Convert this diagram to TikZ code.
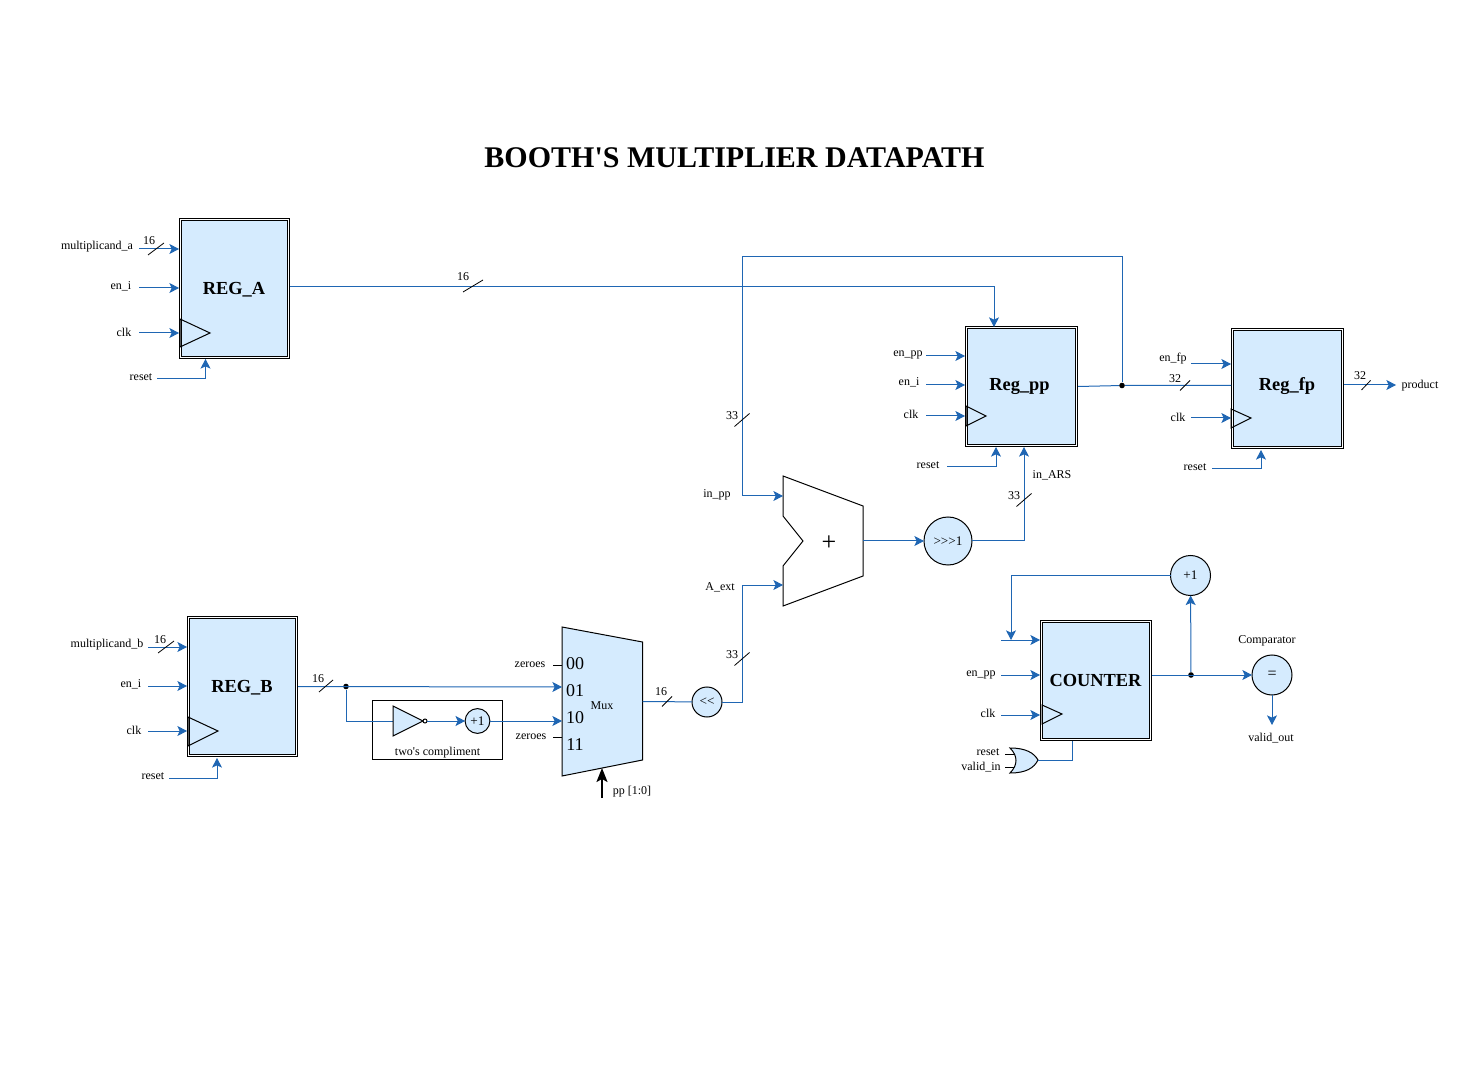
\documentclass[tikz,border=0pt]{standalone}
\usepackage{fontspec}
\setmainfont{Liberation Serif}
\usepackage{xcolor}
\usetikzlibrary{calc}
\usetikzlibrary{arrows.meta}
\definecolor{wireblue}{HTML}{1F66B3}
\definecolor{blockfill}{HTML}{D5EBFE}
\tikzset{
    wire/.style={draw=wireblue, line width=0.5pt},
    wirearrow/.style={wire, -{Stealth[length=4.8pt, width=5pt, inset=1.1pt]}},
    tick/.style={line width=0.4pt},
    lbl/.style={inner sep=0pt, anchor=base, yshift=-2.25pt, font=\fontsize{6}{7}\selectfont},
    bigdigit/.style={inner sep=0pt, anchor=base, yshift=-3pt, font=\fontsize{9}{10}\selectfont},
    regbox/.style={draw, double, double distance=0.5pt, line width=0.5pt, fill=blockfill,
        outer sep=0.75pt, inner sep=0pt},
    regname/.style={inner sep=0pt, anchor=base, font=\bfseries\fontsize{9.2}{11}\selectfont},
    opcircle/.style={circle, draw, line width=0.5pt, fill=blockfill, inner sep=0pt,
        outer sep=0pt, font=\fontsize{6.6}{7}\selectfont},
    joint/.style={circle, fill=black, inner sep=0pt, minimum size=2.8pt},
    block/.style={draw, line width=0.5pt, fill=blockfill, line join=miter},
}
\begin{document}
\begin{tikzpicture}[x=0.5pt, y=-0.5pt]
    \useasboundingbox (0,0) rectangle (1473,1080);

    \node[inner sep=0pt, font=\bfseries\fontsize{15}{18}\selectfont] (title) at (734.5,158) {BOOTH\textquotesingle S MULTIPLIER DATAPATH};

    % registers
    \node[regbox, minimum width=54pt, minimum height=69pt] (rega) at (234.5,288.5) {};
    \node[regbox, minimum width=54pt, minimum height=69pt] (regb) at (242.5,686.5) {};
    \node[regbox, minimum width=55pt, minimum height=59pt] (regpp) at (1021.5,386.5) {};
    \node[regbox, minimum width=55pt, minimum height=59pt] (regfp) at (1287.5,388.5) {};
    \node[regbox, minimum width=54.5pt, minimum height=59pt] (counter) at (1096,680.5) {};
    \node[regname] (namea) at (234,295) {REG\_A};
    \node[regname] (nameb) at (242,692.5) {REG\_B};
    \node[regname] (namepp) at (1019.5,391) {Reg\_pp};
    \node[regname] (namefp) at (1287,391) {Reg\_fp};
    \node[regname] (namecn) at (1095.5,686) {COUNTER};

    % clock marks
    \draw[line width=0.5pt] (180,319) -- (210,333) -- (180,347) -- cycle;
    \draw[line width=0.5pt] (188,717) -- (218,731) -- (188,746) -- cycle;
    \draw[line width=0.5pt] (966,406) -- (986,416) -- (966,426) -- cycle;
    \draw[line width=0.5pt] (1231,409) -- (1251,418) -- (1231,428) -- cycle;
    \draw[line width=0.5pt] (1042,705) -- (1062,714) -- (1042,724) -- cycle;

    % REG_A side
    \node[lbl] (lblma) at (97,245) {multiplicand\_a};
    \node[lbl] (lblia) at (121,285) {en\_i};
    \node[lbl] (lblca) at (124,332) {clk};
    \node[lbl] (lblra) at (141,376) {reset};
    \coordinate (inma) at (139,249);
    \coordinate (inia) at (139,288);
    \coordinate (inca) at (139,333);
    \coordinate (inra) at (157,379);
    \coordinate (upra) at (205.5,359);
    \draw[wirearrow] (inma) -- (rega.west |- inma);
    \draw[wirearrow] (inia) -- (rega.west |- inia);
    \draw[wirearrow] (inca) -- (rega.west |- inca);
    \draw[wirearrow] (inra) -| (upra);
    \draw[tick] (156,249) ++(-8,6) -- ++(16,-12);
    \node[lbl] (w16a) at (149,240) {16};

    % REG_B side
    \node[lbl] (lblmb) at (107,643) {multiplicand\_b};
    \node[lbl] (lblib) at (131,683) {en\_i};
    \node[lbl] (lblcb) at (134,730) {clk};
    \node[lbl] (lblrb) at (153,775) {reset};
    \coordinate (inmb) at (148,647);
    \coordinate (inib) at (148,686);
    \coordinate (incb) at (148,731);
    \coordinate (inrb) at (169,778);
    \coordinate (uprb) at (217,758);
    \draw[wirearrow] (inmb) -- (regb.west |- inmb);
    \draw[wirearrow] (inib) -- (regb.west |- inib);
    \draw[wirearrow] (incb) -- (regb.west |- incb);
    \draw[wirearrow] (inrb) -| (uprb);
    \draw[tick] (166,647) ++(-8,6) -- ++(16,-12);
    \node[lbl] (w16b) at (160,639) {16};

    % two's compliment
    \node[draw, line width=0.5pt, minimum width=65pt, minimum height=29.5pt, inner sep=0pt] (twobox) at (437,729.5) {};
    \node[lbl] (lbltwo) at (437.5,751) {two\textquotesingle s compliment};
    \coordinate (invin) at (393,721);
    \coordinate (invout) at (427,721);
    \node[opcircle, minimum size=12.4pt] (plusb) at (477.5,721) {+1};

    % mux
    \draw[block] (562,627) -- (642.5,642) -- (642.5,760) -- (562,776) -- cycle;
    \coordinate (muxa) at (562,687);
    \coordinate (muxb) at (562,721);
    \coordinate (muxout) at (642.5,701.5);
    \coordinate (muxsel) at (602,768);
    \coordinate (selin) at (602,798);
    \node[bigdigit] (dig00) at (575,663) {00};
    \node[bigdigit] (dig01) at (575,690) {01};
    \node[bigdigit] (dig10) at (575,717) {10};
    \node[bigdigit] (dig11) at (575,744) {11};
    \node[lbl] (lblmux) at (602,705) {Mux};
    \node[lbl] (lblz1) at (530,663) {zeroes};
    \node[lbl] (lblz2) at (531,735) {zeroes};
    \node[lbl] (lblsel) at (632,790) {pp [1:0]};
    \coordinate (zin1) at (553,665);
    \coordinate (zin2) at (553,737);
    \draw[line width=0.5pt] (zin1) -- (zin1 -| muxa);
    \draw[line width=0.5pt] (zin2) -- (zin2 -| muxa);
    \draw[-{Stealth[length=7pt, width=5.5pt, inset=1.5pt]}, line width=1pt] (selin) -- (muxsel);

    % REG_B to mux
    \node[joint] (jb) at (346,686.5) {};
    \draw[wirearrow] (regb.east) -- (muxa);
    \draw[wire] (jb) |- (invin);
    \draw[tick] (326,686) ++(-7,6) -- ++(14,-12);
    \node[lbl] (w16c) at (318,678) {16};
    \draw[block] (393,706) -- (423,721) -- (393,736) -- cycle;
    \draw[line width=0.5pt, fill=white] (425,721) circle (1pt);
    \draw[wirearrow] (invout) -- (plusb);
    \draw[wirearrow] (plusb) -- (muxb);

    % shifter and adder
    \node[opcircle, minimum size=15pt] (shl) at (707,702) {<{}<};
    \draw[wire] (muxout) -- (shl);
    \draw[tick] (667,701.5) ++(-5,5) -- ++(10,-10);
    \node[lbl] (w16d) at (661,691) {16};
    \draw[line width=0.5pt, fill=white] (783,476) -- (863,506) -- (863,576) -- (783,606) -- (783,566) -- (803,541) -- (783,516) -- cycle;
    \node[inner sep=0pt, font=\fontsize{13}{14}\selectfont] (lblplus) at (829,543) {+};
    \coordinate (addin1) at (783,496);
    \coordinate (addin2) at (783,585);
    \coordinate (addout) at (863,541);
    \coordinate (aextup) at (742,585);
    \coordinate (fbcorner) at (742,257);
    \node[lbl] (lblinpp) at (717,493) {in\_pp};
    \node[lbl] (lblaext) at (720,586) {A\_ext};
    \draw[wirearrow] (shl) -| (aextup) -- (addin2);
    \draw[tick] (742,659) ++(-7.5,6.5) -- ++(15,-13);
    \node[lbl] (w33a) at (732,654) {33};
    \node[opcircle, minimum size=24pt] (sra) at (948,541) {>{}>{}>1};
    \draw[wirearrow] (addout) -- (sra);
    \coordinate (ppup) at (1024,447);
    \draw[wirearrow] (sra) -| (ppup);
    \draw[tick] (1024,500) ++(-7.5,6.5) -- ++(15,-13);
    \node[lbl] (w33b) at (1014,495) {33};
    \node[lbl] (lblars) at (1052,474) {in\_ARS};

    % REG_A to Reg_pp
    \coordinate (ppa) at (994,327);
    \draw[wirearrow] (rega.east) ++(0,-1.5) -| (ppa);
    \draw[tick] (473,286) ++(-10,6) -- ++(20,-12);
    \node[lbl] (w16e) at (463,276) {16};

    % Reg_pp
    \node[lbl] (lblepp) at (908,352) {en\_pp};
    \node[lbl] (lblipp) at (909,381) {en\_i};
    \node[lbl] (lblcpp) at (911,414) {clk};
    \node[lbl] (lblrpp) at (928,464) {reset};
    \coordinate (inepp) at (926,356);
    \coordinate (inipp) at (926,385);
    \coordinate (incpp) at (926,416);
    \coordinate (inrpp) at (947,467);
    \coordinate (uprpp) at (996,447);
    \draw[wirearrow] (inepp) -- (regpp.west |- inepp);
    \draw[wirearrow] (inipp) -- (regpp.west |- inipp);
    \draw[wirearrow] (incpp) -- (regpp.west |- incpp);
    \draw[wirearrow] (inrpp) -| (uprpp);

    % Reg_pp to Reg_fp, feedback to adder
    \node[joint] (jpp) at (1122,385.5) {};
    \draw[wire] (regpp.east) -- (jpp) -- (regfp.west |- jpp);
    \draw[tick] (1185,385.5) ++(-5,5) -- ++(10,-10);
    \node[lbl] (w32a) at (1175,378) {32};
    \draw[wirearrow] (jpp) |- (fbcorner) |- (addin1);
    \draw[tick] (742,420) ++(-7.5,6.5) -- ++(15,-13);
    \node[lbl] (w33c) at (732,415) {33};

    % Reg_fp
    \node[lbl] (lblefp) at (1173,357) {en\_fp};
    \node[lbl] (lblcfp) at (1178,417) {clk};
    \node[lbl] (lblrfp) at (1195,466) {reset};
    \node[lbl] (lblprod) at (1420,384) {product};
    \coordinate (inefp) at (1191,364);
    \coordinate (incfp) at (1191,418);
    \coordinate (inrfp) at (1212,469);
    \coordinate (uprfp) at (1261,450);
    \coordinate (prodout) at (1396,385);
    \draw[wirearrow] (inefp) -- (regfp.west |- inefp);
    \draw[wirearrow] (incfp) -- (regfp.west |- incfp);
    \draw[wirearrow] (inrfp) -| (uprfp);
    \draw[wirearrow] (regfp.east |- prodout) -- (prodout);
    \draw[tick] (1366,385) ++(-4.5,5) -- ++(9,-9.5);
    \node[lbl] (w32b) at (1360,375) {32};

    % counter
    \node[opcircle, minimum size=20pt] (plusc) at (1190.5,575.5) {+1};
    \node[opcircle, minimum size=20pt, font=\fontsize{8}{9}\selectfont] (cmp) at (1272,675) {=};
    \node[lbl] (lblcmp) at (1267,639) {Comparator};
    \node[lbl] (lblvout) at (1271,737) {valid\_out};
    \node[lbl] (lblecn) at (981,672) {en\_pp};
    \node[lbl] (lblccn) at (988,713) {clk};
    \node[lbl] (lblrcn) at (988,751) {reset};
    \node[lbl] (lblvin) at (981,766) {valid\_in};
    \coordinate (inlcn) at (1001,640);
    \coordinate (inecn) at (1001,675);
    \coordinate (inccn) at (1001,715);
    \coordinate (fbcn) at (1011,640);
    \coordinate (vout) at (1272,725);
    \draw[wirearrow] (inlcn) -- (counter.west |- inlcn);
    \draw[wirearrow] (inecn) -- (counter.west |- inecn);
    \draw[wirearrow] (inccn) -- (counter.west |- inccn);
    \draw[wirearrow] (plusc) -| (fbcn);
    \node[joint] (jcn) at (1191,675) {};
    \draw[wirearrow] (counter.east |- jcn) -- (cmp);
    \draw[wirearrow] (jcn) -- (plusc);
    \draw[wirearrow] (cmp) -- (vout);

    % reset gate
    \coordinate (orin1) at (1005,754);
    \coordinate (orin2) at (1005,767);
    \coordinate (orout) at (1038,760);
    \draw[line width=0.5pt] (orin1) -- ++(10,0);
    \draw[line width=0.5pt] (orin2) -- ++(10,0);
    \draw[block] (1010,748) .. controls (1026,748) and (1034,753) .. (orout) .. controls (1034,768) and (1026,773) .. (1010,773) .. controls (1018,765) and (1018,756) .. (1010,748) -- cycle;
    \draw[wire] (orout) -| (counter.south -| 1072,0);
\end{tikzpicture}
\end{document}
